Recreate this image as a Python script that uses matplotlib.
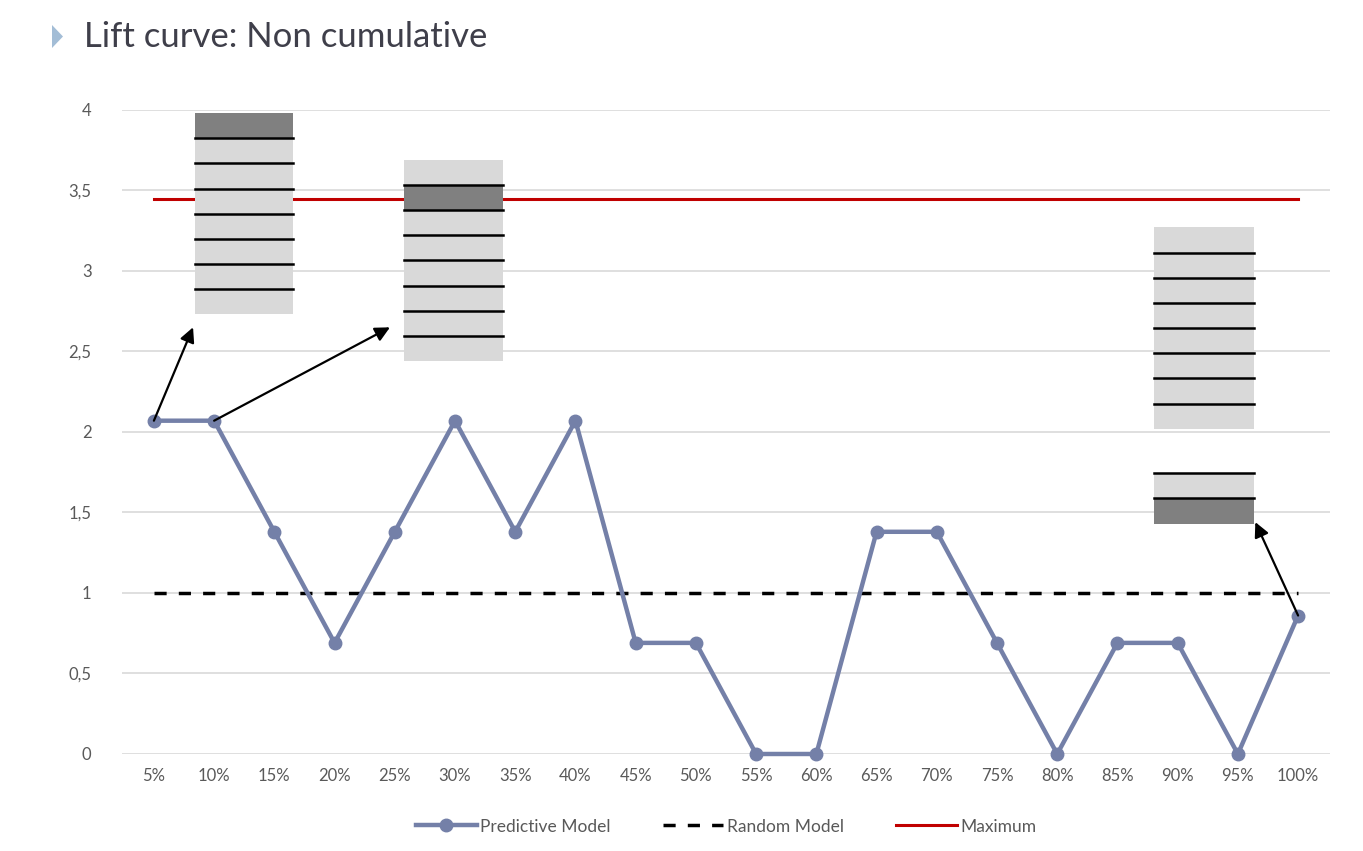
import matplotlib.pyplot as plt
from matplotlib.patches import Rectangle, Polygon

plt.rcParams['font.family'] = ['Lato', 'DejaVu Sans']

# chart data
categories = ['5%', '10%', '15%', '20%', '25%', '30%', '35%', '40%', '45%', '50%',
              '55%', '60%', '65%', '70%', '75%', '80%', '85%', '90%', '95%', '100%']
predictive = [2.07, 2.07, 1.38, 0.69, 1.38, 2.07, 1.38, 2.07, 0.69, 0.69,
              0, 0, 1.38, 1.38, 0.69, 0, 0.69, 0.69, 0, 0.86]
random_model = [1.0] * len(categories)
maximum = [3.45] * len(categories)
y_ticks = [0, 0.5, 1, 1.5, 2, 2.5, 3, 3.5, 4]
y_labels = ['0', '0,5', '1', '1,5', '2', '2,5', '3', '3,5', '4']

xs = list(range(len(categories)))

fig = plt.figure(figsize=(13.63, 8.51), dpi=100)
ax = fig.add_axes([0.0895, 0.114, 0.8863, 0.7568])

ax.set_ylim(0, 4)
ax.set_xlim(-0.53, len(categories) - 0.47)
ax.set_yticks(y_ticks)
ax.set_yticklabels(y_labels)
ax.set_xticks(xs)
ax.set_xticklabels(categories)
ax.grid(axis='y', color='#d9d9d9', lw=1.2)
ax.set_axisbelow(True)
for s in ax.spines.values():
    s.set_visible(False)
ax.tick_params(length=0, labelsize=12, colors='#595959', pad=10)
ax.tick_params(axis='y', pad=22)

ax.plot(xs, predictive, color='#7480a8', lw=3.2, marker='o', ms=9,
        label='Predictive Model', clip_on=False, zorder=4)
ax.plot(xs, random_model, color='black', lw=2.5, ls=(0, (3.5, 3.5)),
        label='Random Model', zorder=3)
ax.plot(xs, maximum, color='#c00000', lw=2.2, label='Maximum', zorder=3)

# stacked boxes: (x0, x1, top, bottom, cells, dark cell index from top)
boxes = [
    (0.68, 2.31, 3.98, 2.73, 8, 0, False),
    (4.15, 5.80, 3.69, 2.44, 8, 1, False),
    (16.61, 18.26, 3.27, 2.02, 8, None, False),
    (16.61, 18.26, 1.745, 1.43, 2, 1, True),
]
for x0, x1, top, bot, n, dark, top_line in boxes:
    h = (top - bot) / n
    for i in range(n):
        y = top - (i + 1) * h
        fc = '#808080' if i == dark else '#d9d9d9'
        ax.add_patch(Rectangle((x0, y), x1 - x0, h, facecolor=fc,
                               edgecolor='none', zorder=5))
    start = 0 if top_line else 1
    for i in range(start, n):
        y = top - i * h
        ax.plot([x0, x1], [y, y], color='black', lw=1.8, zorder=6)

# arrows from points to boxes
arrows = [((0, 2.07), (0.65, 2.65)),
          ((1, 2.07), (3.92, 2.65)),
          ((19, 0.86), (18.29, 1.44))]
for (sx, sy), (ex, ey) in arrows:
    ax.annotate('', xy=(ex, ey), xytext=(sx, sy),
                arrowprops=dict(arrowstyle='-|>', color='black', lw=1.6,
                                mutation_scale=22, shrinkA=0, shrinkB=0),
                zorder=7)

leg = ax.legend(loc='upper center', bbox_to_anchor=(0.5, -0.076), ncol=3,
                frameon=False, fontsize=12.5, handlelength=3.5,
                columnspacing=3.0, handletextpad=0.2)
for t in leg.get_texts():
    t.set_color('#595959')

# title with triangle bullet
fig.patches.append(Polygon([[52 / 1363, 1 - 25 / 851], [52 / 1363, 1 - 48 / 851],
                            [63 / 1363, 1 - 36.5 / 851]], closed=True,
                           transform=fig.transFigure, facecolor='#a3bdd6',
                           edgecolor='none'))
fig.text(84 / 1363, 1 - 37 / 851, 'Lift curve: Non cumulative', fontsize=25,
         color='#3f3f4a', va='center', ha='left')

fig.savefig('out.png', dpi=100)
